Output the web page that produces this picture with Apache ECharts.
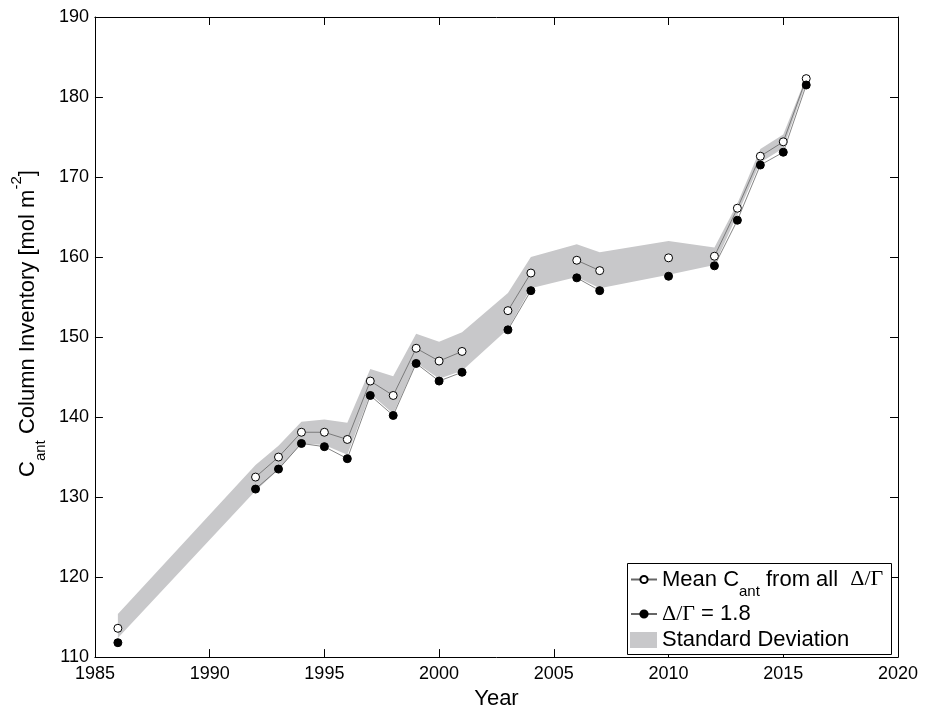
<!DOCTYPE html>
<html><head><meta charset="utf-8">
<script src="https://cdn.jsdelivr.net/npm/echarts@6/dist/echarts.min.js"></script>
<style>html,body{margin:0;padding:0;background:#fff}#c{width:928px;height:715px}</style>
</head><body><div id="c"></div>
<script>
// ---- data ----
const years    = [1986, 1992, 1993, 1994, 1995, 1996, 1997, 1998, 1999, 2000, 2001, 2003, 2004, 2006, 2007, 2010, 2012, 2013, 2014, 2015, 2016];
const meanCant = [113.6, 132.5, 135.0, 138.1, 138.1, 137.2, 144.5, 142.7, 148.6, 147.0, 148.2, 153.3, 158.0, 159.6, 158.3, 159.9, 160.1, 166.1, 172.6, 174.4, 182.3];
const cant18   = [111.8, 131.0, 133.5, 136.7, 136.3, 134.8, 142.7, 140.2, 146.7, 144.5, 145.6, 150.9, 155.8, 157.4, 155.8, 157.6, 158.9, 164.6, 171.5, 173.1, 181.5];
const sdLower  = [112.4, 130.8, 133.4, 136.7, 136.5, 135.3, 142.9, 140.4, 146.8, 144.8, 145.8, 151.0, 156.1, 157.5, 156.1, 157.8, 159.0, 165.3, 171.8, 173.6, 181.8];
const sdUpper  = [115.4, 134.0, 136.4, 139.4, 139.7, 139.3, 146.0, 145.1, 150.4, 149.4, 150.6, 155.5, 160.0, 161.6, 160.6, 162.0, 161.2, 166.7, 173.5, 175.3, 182.5];
const xTickLabels = [1985, 1990, 1995, 2000, 2005, 2010, 2015, 2020];
const yTickLabels = [110, 120, 130, 140, 150, 160, 170, 180, 190];

const FONT = 'Liberation Sans, Arial, Helvetica, sans-serif';
const SERIF = 'Liberation Serif, Times New Roman, serif';

// lines are broken where a year is missing
function withGaps(vals) {
  const out = [];
  for (let i = 0; i < years.length; i++) {
    out.push([years[i], vals[i]]);
    if (i < years.length - 1 && years[i + 1] - years[i] > 1) out.push([years[i] + 1, '-']);
  }
  return out;
}

const rich = {
  t:   { fontSize: 22, fontFamily: FONT, color: '#000', lineHeight: 24 },
  g:   { fontSize: 22, fontFamily: SERIF, color: '#000', lineHeight: 24 },
  sub: { fontSize: 15, fontFamily: FONT, color: '#000', lineHeight: 15, padding: [25, 0, 0, 0] },
  sup: { fontSize: 15, fontFamily: FONT, color: '#000', lineHeight: 15, padding: [0, 0, 22, 0] }
};

const xStep = xTickLabels[1] - xTickLabels[0];
const yStep = yTickLabels[1] - yTickLabels[0];
const tick = { show: true, inside: true, length: 8, lineStyle: { color: '#000', width: 1 } };
const axLine = { show: true, onZero: false, lineStyle: { color: '#000', width: 1 } };

const chart = echarts.init(document.getElementById('c'), null, { renderer: 'canvas' });
chart.setOption({
  animation: false,
  backgroundColor: '#fff',
  grid: { left: 91, right: 30, top: 17, bottom: 53, show: false },
  xAxis: [{
    type: 'value', position: 'bottom',
    min: xTickLabels[0], max: xTickLabels[xTickLabels.length - 1], interval: xStep,
    axisLine: axLine, axisTick: tick, splitLine: { show: false },
    axisLabel: { color: '#000', fontSize: 18, fontFamily: FONT, margin: 8, formatter: v => String(v) },
    name: 'Year', nameLocation: 'middle', nameGap: 30,
    nameTextStyle: { color: '#000', fontSize: 22, fontFamily: FONT }
  }, {
    type: 'value', position: 'top',
    min: xTickLabels[0], max: xTickLabels[xTickLabels.length - 1], interval: xStep,
    axisLine: axLine, axisTick: tick, splitLine: { show: false }, axisLabel: { show: false }
  }],
  yAxis: [{
    type: 'value', position: 'left',
    min: yTickLabels[0], max: yTickLabels[yTickLabels.length - 1], interval: yStep,
    axisLine: axLine, axisTick: tick, splitLine: { show: false },
    axisLabel: { color: '#000', fontSize: 18, fontFamily: FONT, margin: 6, formatter: v => String(v) },
    name: '{t|C}{sub|ant}{t| Column Inventory [mol m}{sup|-2}{t|]}',
    nameLocation: 'middle', nameRotate: 90, nameGap: 33,
    nameTextStyle: { rich: rich, padding: [0, 0, 0, 27] }
  }, {
    type: 'value', position: 'right',
    min: yTickLabels[0], max: yTickLabels[yTickLabels.length - 1], interval: yStep,
    axisLine: axLine, axisTick: tick, splitLine: { show: false }, axisLabel: { show: false }
  }],
  legend: [{
    data: ['mean'], orient: 'vertical', left: 630, top: 559.5, padding: 0, z: 10,
    selectedMode: false, itemWidth: 26, itemHeight: 9,
    formatter: () => '{t|Mean C}{sub|ant}{t| from all  }{g|\u0394/\u0393}',
    textStyle: { rich: rich }
  }, {
    data: ['d18'], orient: 'vertical', left: 630, top: 603, padding: 0, z: 10,
    selectedMode: false, itemWidth: 26, itemHeight: 9,
    formatter: () => '{g|\u0394/\u0393}{t| = 1.8}',
    textStyle: { rich: rich }
  }, {
    data: [{ name: 'sd', icon: 'rect' }], orient: 'vertical', left: 630, top: 629, padding: 0, z: 10,
    selectedMode: false, itemWidth: 27, itemHeight: 16,
    formatter: () => '{t|Standard Deviation}',
    textStyle: { rich: rich }
  }],
  graphic: [{
    type: 'rect', z: 5,
    shape: { x: 627.5, y: 563.5, width: 264, height: 91 },
    style: { fill: '#fff', stroke: '#000', lineWidth: 1 }
  }],
  series: [{
    name: 'sd', type: 'custom', z: 1,
    xAxisIndex: 0, yAxisIndex: 0,
    itemStyle: { color: '#c8c8ca' },
    encode: { x: 0, y: [1, 2] },
    data: years.map((y, i) => [y, sdLower[i], sdUpper[i]]),
    renderItem: function (params, api) {
      if (params.dataIndex !== 0) return;
      const pts = [];
      for (let i = 0; i < years.length; i++) pts.push(api.coord([years[i], sdUpper[i]]));
      for (let i = years.length - 1; i >= 0; i--) pts.push(api.coord([years[i], sdLower[i]]));
      return { type: 'polygon', shape: { points: pts }, style: { fill: '#c8c8ca' } };
    }
  }, {
    name: 'mean', type: 'line', z: 3,
    data: withGaps(meanCant), connectNulls: false,
    symbol: 'circle', symbolSize: 8, showSymbol: true,
    lineStyle: { color: '#666', width: 0.8 },
    itemStyle: { color: '#fff', borderColor: '#000', borderWidth: 1 }
  }, {
    name: 'd18', type: 'line', z: 4,
    data: withGaps(cant18), connectNulls: false,
    symbol: 'circle', symbolSize: 8, showSymbol: true,
    lineStyle: { color: '#666', width: 0.8 },
    itemStyle: { color: '#000', borderColor: '#000', borderWidth: 1 }
  }]
});
</script></body></html>
